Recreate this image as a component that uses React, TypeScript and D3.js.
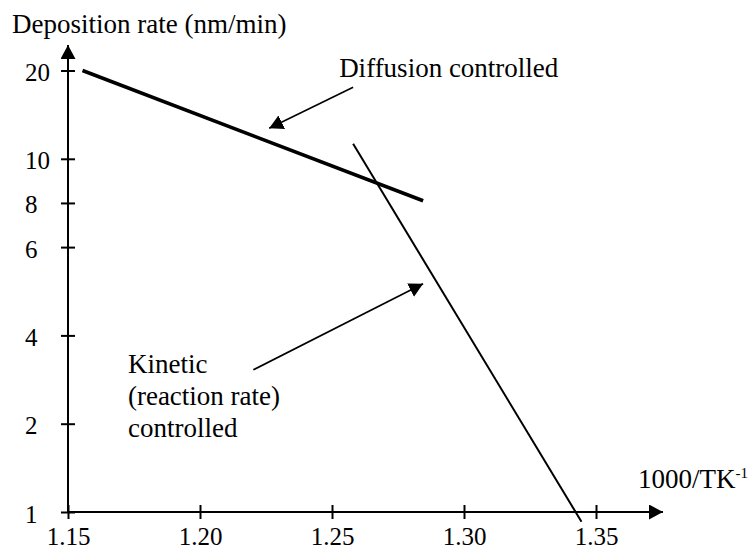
import React, { useEffect, useRef } from 'react'
import * as d3 from 'd3'

// axis ticks
const yTicks = [1, 2, 4, 6, 8, 10, 20]
const xTicks = [1.15, 1.2, 1.25, 1.3, 1.35]

// the two regimes (1000/T, rate)
const diffusionX = [1.1555, 1.2845]
const diffusionY = [20, 8.1]
const kineticX = [1.258, 1.3445]
const kineticY = [11.7, 0.89]

// annotation arrows, tail -> tip, in data units
const diffusionArrowX = [1.258, 1.2262]
const diffusionArrowY = [18.1, 13.45]
const kineticArrowX = [1.2202, 1.2845]
const kineticArrowY = [3.22, 5.17]

const diffusionLabel = 'Diffusion controlled'
const kineticLabel = ['Kinetic', '(reaction rate)', 'controlled']

const FONT = 'Liberation Serif, Times New Roman, Times, DejaVu Serif, serif'

function App() {
  const ref = useRef<SVGSVGElement>(null)

  useEffect(() => {
    const svg = d3.select(ref.current)
    svg.selectAll('*').remove()

    const x = d3.scaleLinear().domain([1.15, 1.35]).range([68, 596])
    // printed axis is hand spaced: 1,2,4,6 one step apart, 6,8,10 half a step, 10-20 one step
    const unit = 88.3
    const y = d3.scaleLinear()
      .domain(yTicks)
      .range([0, 1, 2, 3, 3.5, 4, 5].map(k => 512 - k * unit))

    const defs = svg.append('defs')
    defs.append('marker')
      .attr('id', 'head')
      .attr('markerUnits', 'userSpaceOnUse')
      .attr('viewBox', '0 0 14 15')
      .attr('refX', 14).attr('refY', 7.5)
      .attr('markerWidth', 14).attr('markerHeight', 15)
      .attr('orient', 'auto')
      .append('path')
      .attr('d', 'M0,0L14,7.5L0,15Z')
      .attr('fill', 'black')

    const g = svg.append('g')

    // axis lines with arrows
    g.append('line')
      .attr('x1', x(1.15)).attr('y1', y(1))
      .attr('x2', x(1.15)).attr('y2', 45)
      .attr('stroke', 'black').attr('stroke-width', 2)
      .attr('marker-end', 'url(#head)')
    g.append('line')
      .attr('x1', x(1.15)).attr('y1', y(1))
      .attr('x2', 663).attr('y2', y(1))
      .attr('stroke', 'black').attr('stroke-width', 2)
      .attr('marker-end', 'url(#head)')

    const yAxis = g.append('g')
      .attr('transform', `translate(${x(1.15)},0)`)
      .call(d3.axisLeft(y).tickValues(yTicks).tickSize(7).tickFormat(d3.format('d')))
    yAxis.select('.domain').remove()
    yAxis.selectAll('.tick line').attr('x1', 7).attr('stroke-width', 2)
    yAxis.selectAll('.tick text')
      .attr('x', -43).attr('dy', 10)
      .attr('text-anchor', 'start')
      .classed('tk', true)

    const xAxis = g.append('g')
      .attr('transform', `translate(0,${y(1)})`)
      .call(d3.axisBottom(x).tickValues(xTicks).tickSize(7).tickFormat(d3.format('.2f')))
    xAxis.select('.domain').remove()
    xAxis.selectAll('.tick line').attr('y1', -7).attr('stroke-width', 2)
    xAxis.selectAll('.tick text')
      .attr('y', 33).attr('dy', null)
      .classed('tk', true)

    // axis titles
    g.append('text')
      .attr('x', 12).attr('y', 33)
      .text('Deposition rate (nm/min)')
    const xt = g.append('text')
      .attr('x', 638).attr('y', 488)
      .text('1000/TK')
    xt.append('tspan').attr('dy', -10).attr('font-size', 15).text('-1')

    const line = d3.line<[number, number]>().x(d => x(d[0])).y(d => y(d[1]))

    g.append('path')
      .attr('d', line(d3.zip(diffusionX, diffusionY) as [number, number][]))
      .attr('fill', 'none').attr('stroke', 'black').attr('stroke-width', 3.6)
    g.append('path')
      .attr('d', line(d3.zip(kineticX, kineticY) as [number, number][]))
      .attr('fill', 'none').attr('stroke', 'black').attr('stroke-width', 2)

    // annotations
    ;[[diffusionArrowX, diffusionArrowY], [kineticArrowX, kineticArrowY]].forEach(([ax, ay]) => {
      g.append('path')
        .attr('d', line(d3.zip(ax, ay) as [number, number][]))
        .attr('fill', 'none').attr('stroke', 'black').attr('stroke-width', 1.6)
        .attr('marker-end', 'url(#head)')
    })

    g.append('text')
      .attr('x', x(1.2527)).attr('y', 77)
      .text(diffusionLabel)

    const kt = g.append('text')
      .attr('x', x(1.1727)).attr('y', 373)
    kineticLabel.forEach((s, i) => {
      kt.append('tspan').attr('x', x(1.1727)).attr('dy', i === 0 ? 0 : 32).text(s)
    })

    // one serif face for every label, axis ones included
    svg.selectAll('g').attr('font-family', FONT)
    svg.selectAll('text')
      .attr('font-family', FONT)
      .attr('font-size', 27)
      .attr('fill', 'black')
    svg.selectAll('text.tk').attr('font-size', 25)
  }, [])

  return (
    <svg ref={ref} width={751} height={550}
      style={{ position: 'absolute', left: 0, top: 0, background: 'white' }} />
  )
}

export default App
